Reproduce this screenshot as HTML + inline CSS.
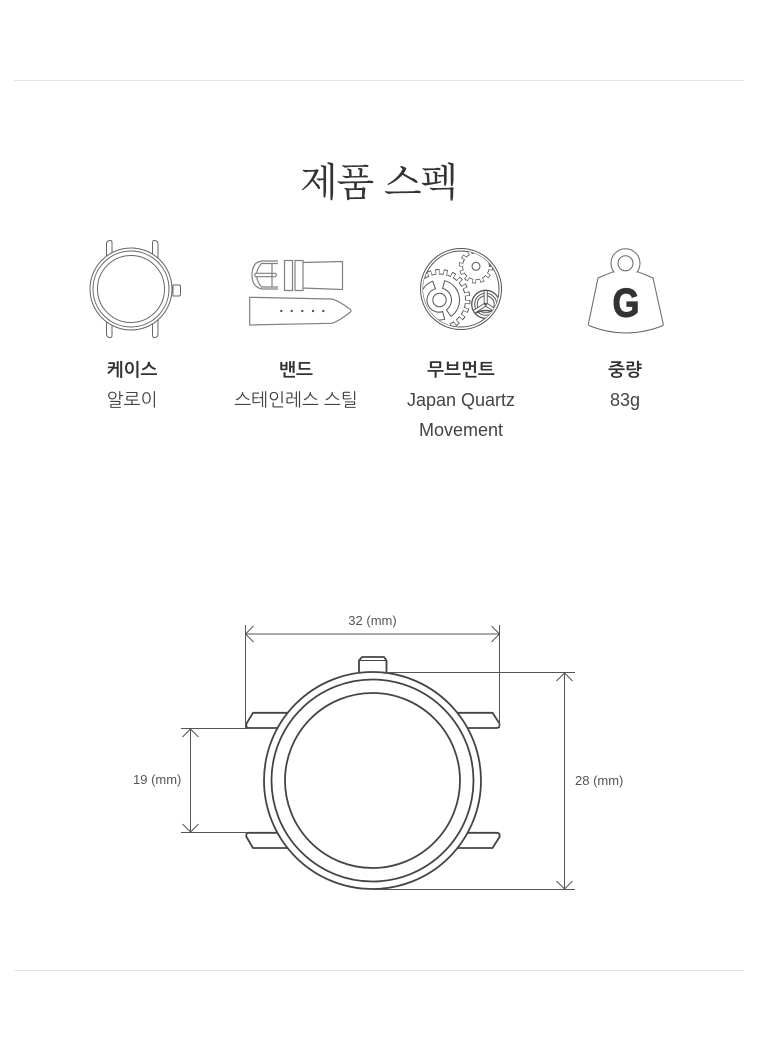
<!DOCTYPE html>
<html lang="ko">
<head>
<meta charset="utf-8">
<title>제품 스펙</title>
<style>
html,body{margin:0;padding:0;background:#fff}
body{width:758px;height:1050px;position:relative;overflow:hidden}
svg{position:absolute;left:0;top:0}
.k{font-family:"Liberation Sans","NanumGothic","Noto Sans CJK KR",sans-serif}
</style>
</head>
<body>
<svg width="758" height="1050" viewBox="0 0 758 1050" xmlns="http://www.w3.org/2000/svg">
<defs><clipPath id="dial"><circle cx="461" cy="289" r="38"/></clipPath></defs>
<rect width="758" height="1050" fill="#fff"/>
<path d="M14 80.5H744M14 970.5H744" stroke="#e4e4e4" stroke-width="1"/>

<text x="300" y="196" textLength="158" lengthAdjust="spacing" font-family="'Noto Serif CJK KR','Noto Serif CJK SC',serif" font-size="39" fill="#333">제품 스펙</text>

<!-- watch icon -->
<g fill="#fff" stroke="#666" stroke-width="1">
<path d="M106.500 258V244q0-3 3-3.500q2.500-.5 2.500 2V258zM152.500 258V243q0-3 2.500-2.500q3 .5 3 3.500V258zM106.500 320V334q0 3 3 3.500q2.500.5 2.500-2V320zM152.500 320V335q0 3 2.500 2.500q3-.5 3-3.500V320z"/>
<path d="M173 285h6q1.500 0 1.500 1.500v8q0 1.500-1.500 1.500h-6z"/>
<circle cx="131" cy="289" r="41"/><circle cx="131" cy="289" r="38"/><circle cx="131" cy="289" r="33.500"/>
</g>

<!-- strap icon -->
<g fill="#fff" stroke="#808080" stroke-width="1.200">
<path d="M302 262.500L342.500 261.500V289.500L302 288z"/>
<path d="M278 261H262Q252 262 252 275Q252 287 262 289H278"/>
<path d="M278 263.500H261.500Q257 268 256.500 275Q257 282 261.500 287H278"/>
<path d="M255.500 273.300H275.500q1.800 1.700 0 3.400H255.500q-1.500-1.700 0-3.400z"/>
<path d="M272 263.500V287"/>
<rect x="284.500" y="260.500" width="8" height="30"/>
<rect x="295" y="260.500" width="8" height="30"/>
<path d="M249.700 297.300L331 299Q337 299.500 350.500 309.500Q351.500 311 350.500 312Q337 322.500 331 323.300L249.700 325z"/>
</g>
<g fill="#555"><circle cx="281.300" cy="311" r="1.200"/><circle cx="291.700" cy="311" r="1.200"/><circle cx="302.300" cy="311" r="1.200"/><circle cx="313" cy="311" r="1.200"/><circle cx="323.300" cy="311" r="1.200"/></g>

<!-- movement icon -->
<g fill="none" stroke="#555" stroke-width="1">
<circle cx="461" cy="289" r="40.500"/><circle cx="461" cy="289" r="38"/>
<g clip-path="url(#dial)">
<!-- large gear -->
<circle cx="439.500" cy="300" r="28.250" stroke-width="5.500" pathLength="22" stroke-dasharray=".5 .5"/>
<circle cx="439.500" cy="300" r="26"/>
<circle cx="439.500" cy="300" r="27.500" stroke="#fff" stroke-width="5" pathLength="22" stroke-dasharray=".34 .66" stroke-dashoffset="-.08"/>
<circle cx="439.500" cy="300" r="25.500" fill="#fff" stroke="none"/>
<circle cx="439.500" cy="300" r="6.700"/>
<path d="M444.700 280.700A20 20 0 0 1 451 316.400L446.400 309.800A12 12 0 0 0 442.600 288.400z"/>
<path d="M444.700 319.300A20 20 0 0 1 432.700 281.200L435.400 288.700A12 12 0 0 0 442.600 311.600z"/>
<!-- small gear -->
<circle cx="476" cy="266.300" r="15" stroke-width="4.400" pathLength="12" stroke-dasharray=".5 .5"/>
<circle cx="476" cy="266.300" r="13.300"/>
<circle cx="476" cy="266.300" r="14.600" stroke="#fff" stroke-width="3.600" pathLength="12" stroke-dasharray=".34 .66" stroke-dashoffset="-.08"/>
<circle cx="476" cy="266.300" r="12.900" fill="#fff" stroke="none"/>
<circle cx="476" cy="266.300" r="4"/>
<!-- third wheel -->
<circle cx="485.700" cy="304.300" r="14" fill="#fff" stroke-width="1.300"/>
<circle cx="485.700" cy="304.300" r="11"/><circle cx="485.700" cy="304.300" r="8.500"/>
<path d="M485.700 304.300V291M485.700 304.300L474.500 311.500M485.700 304.300L497 311.500" stroke-width="4"/>
<path d="M485.700 304.300V291M485.700 304.300L474.500 311.500M485.700 304.300L497 311.500" stroke="#fff" stroke-width="2.200"/>
<path d="M476 313Q485.700 308 495.500 313" stroke-width="1.500"/>
<circle cx="485.700" cy="304.300" r="1.500" fill="#555" stroke="none"/>
</g>
</g>

<!-- weight icon -->
<circle cx="625.500" cy="263.300" r="14.500" fill="#fff" stroke="#666" stroke-width="1"/>
<path d="M613 272.500H638L653 278L663 324Q625.500 342 589 324L598 278z" fill="#fff"/>
<path d="M613.200 271.800Q606 274.500 598 278L588.700 322.500Q587.500 325 590 326Q625.500 340 662 326Q664 325 663 323L653 278Q645 274.500 637.800 271.800" fill="none" stroke="#666" stroke-width="1"/>
<circle cx="625.500" cy="263.300" r="7.500" fill="#fff" stroke="#666" stroke-width="1"/>
<text transform="translate(626 316.500) scale(.86 1)" text-anchor="middle" font-family="'Liberation Sans',sans-serif" font-weight="700" font-size="40" fill="#333" stroke="#333" stroke-width="1.200">G</text>

<!-- captions -->
<g class="k" text-anchor="middle" font-size="18" fill="#444">
<text x="132" y="376" font-weight="700" fill="#333">케이스</text>
<text x="296" y="376" font-weight="700" fill="#333">밴드</text>
<text x="461" y="376" font-weight="700" fill="#333">무브먼트</text>
<text x="625" y="376" font-weight="700" fill="#333">중량</text>
<text x="132" y="406">알로이</text>
<text x="296" y="406">스테인레스 스틸</text>
<text x="461" y="406">Japan Quartz</text>
<text x="461" y="436">Movement</text>
<text x="625" y="406">83g</text>
</g>

<!-- diagram: lugs & case -->
<g fill="#fff" stroke="#444" stroke-width="1.800" stroke-linejoin="round">
<path d="M292 712.800H253L246.500 723.500Q245.500 728 249 728H280z"/>
<path d="M453 712.800H492.500L499.500 723.500Q500 728 496.500 728H465z"/>
<path d="M277 832.800H249Q245.500 832.800 246.500 837L253 848H292z"/>
<path d="M468 832.800H496.500Q500.500 832.800 499.500 837L492.500 848H453z"/>
<path d="M359 673V660.500L362 657H384L386.500 660.500V673z"/>
<path d="M359.500 660.500H386" stroke-width="1"/>
<circle cx="372.500" cy="780.500" r="108.500"/>
<circle cx="372.500" cy="780.500" r="101"/>
<circle cx="372.500" cy="780.500" r="87.500"/>
</g>

<!-- dimensions -->
<g fill="none" stroke="#555" stroke-width="1">
<path d="M245.500 625V728M499.500 625V728M245.500 634H499.500"/>
<path d="M253.500 626L245.500 634L253.500 642M491.500 626L499.500 634L491.500 642"/>
<path d="M386 672.500H575M372 889.500H575M564.500 672.500V889.500"/>
<path d="M556.500 681L564.500 673L572.500 681M556.500 881L564.500 889L572.500 881"/>
<path d="M181 728.500H248M181 832.500H248M190.500 728.500V832.500"/>
<path d="M182.500 737L190.500 729L198.500 737M182.500 824L190.500 832L198.500 824"/>
</g>
<g class="k" font-size="13" fill="#555">
<text x="372.500" y="625" text-anchor="middle">32 (mm)</text>
<text x="133" y="784">19 (mm)</text>
<text x="575" y="785">28 (mm)</text>
</g>
</svg>
</body>
</html>
